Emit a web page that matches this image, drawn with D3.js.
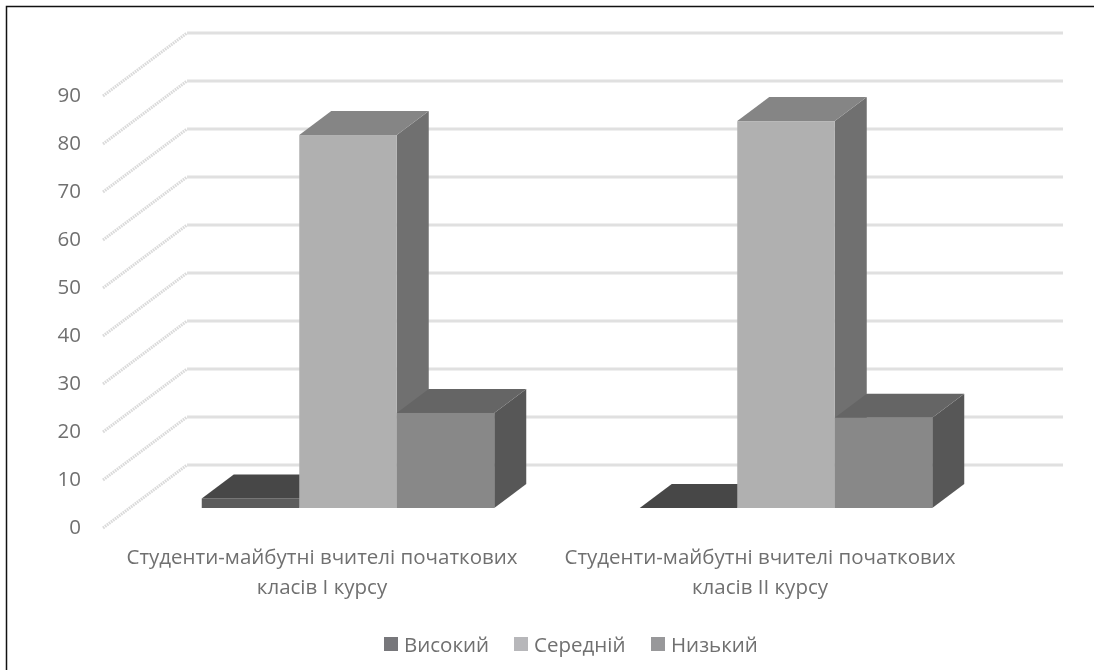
<!DOCTYPE html>
<html><head><meta charset="utf-8">
<script src="https://cdn.jsdelivr.net/npm/d3@7/dist/d3.min.js"></script>
<style>html,body{margin:0;padding:0;background:#fff}svg{display:block;filter:blur(0.5px)}
text{font-family:"Open Sans",sans-serif;fill:#707070}</style></head><body>
<svg id="c" width="1094" height="670"></svg>
<script>
const categories=[["Студенти-майбутні вчителі початкових","класів І курсу"],["Студенти-майбутні вчителі початкових","класів ІІ курсу"]];
const seriesNames=["Високий","Середній","Низький"];
const high=[2,0];
const mid=[77.7,80.6];
const low=[19.8,18.8];
const yTicks=[0,10,20,30,40,50,60,70,80,90];
const seriesValues=[high,mid,low];
const faceColors=["#5c5c5c","#b0b0b0","#888888"];
const topColors=["#474747","#858585","#656565"];
const sideColors=["#3d3d3d","#707070","#575757"];
const legendColors=["#77777b","#b7b7ba","#98989a"];

const svg=d3.select("#c");
svg.append("path").attr("d",d3.line()([[6.5,670],[6.5,6.5],[1094,6.5]])).attr("fill","none").attr("stroke","#111").attr("stroke-width",1.5);
const dx=32,dy=-24;
const y=d3.scaleLinear().domain([0,90]).range([508,76]);
const x0=d3.scaleBand().domain([0,1]).range([129,1005]);
const x1=d3.scaleBand().domain([0,1,2]).range([0,97.5*3]);
const groupPad=(x0.bandwidth()-x1.range()[1])/2;
const wallG=svg.append("g");
const wx0=103,wx1=187,wyOff=-43,wyFront=20;
yTicks.forEach(t=>{
  const yy=y(t);
  wallG.append("line").attr("x1",wx0).attr("x2",wx1).attr("y1",yy+wyFront).attr("y2",yy+wyOff)
    .attr("stroke","#dadada").attr("stroke-width",3).attr("stroke-dasharray","1.6 0.9");
  wallG.append("line").attr("x1",wx1).attr("x2",1063).attr("y1",yy+wyOff).attr("y2",yy+wyOff)
    .attr("stroke","#e0e0e0").attr("stroke-width",2.8);
  svg.append("text").attr("x",81).attr("y",yy+25.5).attr("text-anchor","end").attr("font-size",20.5).text(t);
});
categories.forEach((c,ci)=>{
  const g=svg.append("g");
  const gx=x0(ci)+groupPad;
  seriesValues.forEach((vals,si)=>{
    const l=gx+x1(si),r=l+x1.bandwidth(),t=y(vals[ci]),b=y(0);
    if(b-t>0) g.append("path").attr("d",d3.line()([[r,t],[r+dx,t+dy],[r+dx,b+dy],[r,b]])).attr("fill",sideColors[si]);
    g.append("path").attr("d",d3.line()([[l,t],[l+dx,t+dy],[r+dx,t+dy],[r,t]])).attr("fill",topColors[si]);
    if(b-t>0) g.append("rect").attr("x",l).attr("y",t).attr("width",r-l).attr("height",b-t).attr("fill",faceColors[si]);
  });
  const cx=gx+x1.range()[1]/2-26;
  c.forEach((line,li)=>svg.append("text").attr("x",cx).attr("y",564+li*30).attr("text-anchor","middle").attr("font-size",20.5).text(line));
});
const legX=[384,514,651];
seriesNames.forEach((n,i)=>{
  svg.append("rect").attr("x",legX[i]).attr("y",637).attr("width",14).attr("height",14).attr("fill",legendColors[i]);
  svg.append("text").attr("x",legX[i]+20).attr("y",651.5).attr("font-size",20.5).text(n);
});
</script></body></html>
